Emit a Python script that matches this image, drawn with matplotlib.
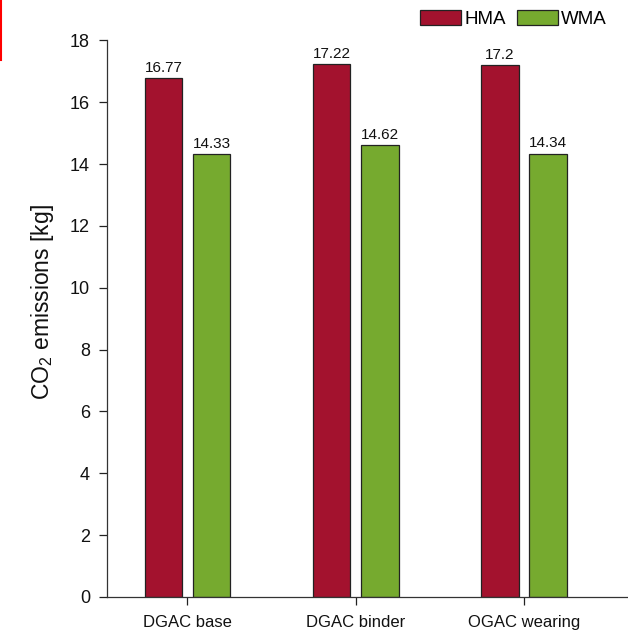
import matplotlib
matplotlib.use("Agg")
import matplotlib.pyplot as plt
import numpy as np
from matplotlib.lines import Line2D

categories = ["DGAC base", "DGAC binder", "OGAC wearing"]
hma = [16.77, 17.22, 17.2]
wma = [14.33, 14.62, 14.34]
hma_labels = ["16.77", "17.22", "17.2"]
wma_labels = ["14.33", "14.62", "14.34"]
yticks = [0, 2, 4, 6, 8, 10, 12, 14, 16, 18]

plt.rcParams['font.family'] = ['Liberation Sans', 'DejaVu Sans']
plt.rcParams['mathtext.fontset'] = 'custom'
plt.rcParams['mathtext.rm'] = 'Liberation Sans'
plt.rcParams['mathtext.it'] = 'Liberation Sans:italic'

hma_color = "#A3122E"
wma_color = "#76AA2F"

fig = plt.figure(figsize=(6.28, 6.34), dpi=100)
ax = fig.add_axes([0.170, 0.0584, 0.830, 0.878])

x = np.arange(len(categories))
w = 0.225
off = 0.143
b1 = ax.bar(x - off, hma, w, color=hma_color, edgecolor="#222222", linewidth=0.9, label="HMA")
b2 = ax.bar(x + off, wma, w, color=wma_color, edgecolor="#222222", linewidth=0.9, label="WMA")

for rect, lab in zip(b1, hma_labels):
    ax.text(rect.get_x() + rect.get_width() / 2, rect.get_height() + 0.1, lab,
            ha="center", va="bottom", fontsize=11, color="#111111")
for rect, lab in zip(b2, wma_labels):
    ax.text(rect.get_x() + rect.get_width() / 2, rect.get_height() + 0.1, lab,
            ha="center", va="bottom", fontsize=11, color="#111111")

ax.set_xlim(-0.48, 2.62)
ax.set_ylim(0, 18)
ax.set_yticks(yticks)
ax.set_xticks(x)
ax.set_xticklabels(categories, fontsize=12)
ax.tick_params(axis="y", labelsize=13, length=6, width=0.9, direction="out", pad=6, colors="#222222")
ax.tick_params(axis="x", length=6, width=0.9, direction="out", pad=7, colors="#222222")
for lab in ax.get_xticklabels() + ax.get_yticklabels():
    lab.set_color("#111111")

ax.spines["top"].set_visible(False)
ax.spines["right"].set_visible(False)
ax.spines["left"].set_color("#333333")
ax.spines["bottom"].set_color("#333333")
ax.spines["left"].set_linewidth(0.9)
ax.spines["bottom"].set_linewidth(0.9)

ax.set_ylabel("CO$_2$ emissions [kg]", fontsize=16.5, labelpad=10, color="#111111")
ax.yaxis.label.set_y(0.53)

leg = fig.legend(handles=[b1, b2], labels=["HMA", "WMA"], loc="upper right",
                 bbox_to_anchor=(0.982, 1.0), ncol=2, frameon=False, fontsize=13.5,
                 handlelength=2.19, handleheight=0.85, handletextpad=0.15,
                 columnspacing=0.6, borderaxespad=0.15)

fig.add_artist(Line2D([0.002, 0.002], [1.0, 0.905], color="#FF0000", linewidth=1.5,
                      transform=fig.transFigure))

fig.savefig("out.png", dpi=100)
